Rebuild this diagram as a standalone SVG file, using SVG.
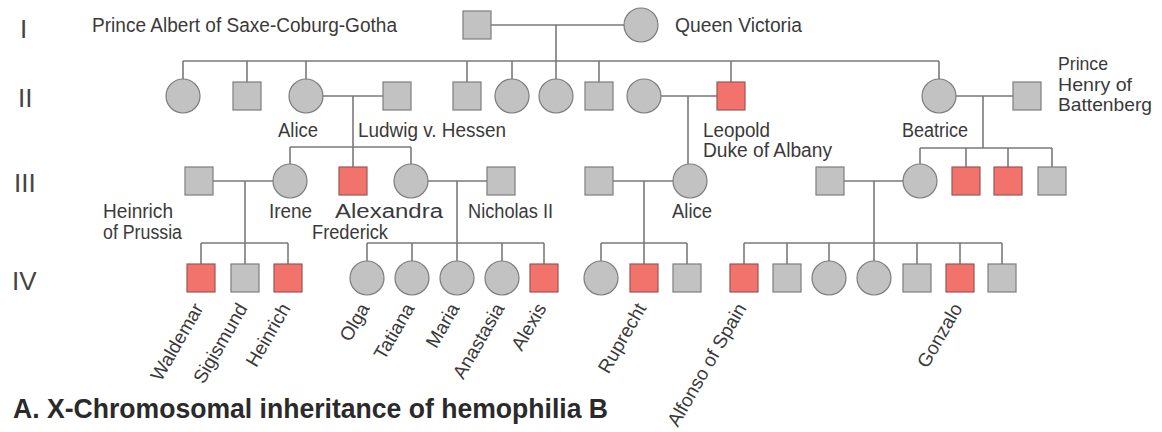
<svg xmlns="http://www.w3.org/2000/svg" width="1162" height="432" viewBox="0 0 1162 432">
<style>
.bg{fill:#ffffff}
.m{fill:#c2c2c2;stroke:#7d7d7d;stroke-width:1.2}
.a{fill:#f2726c;stroke:#9c5855;stroke-width:1.2}
.ln{fill:none;stroke:#7a7a7a;stroke-width:1.6}
.t{font-family:"Liberation Sans",Arial,sans-serif;font-size:20px;fill:#3a3a3a}
.s{font-family:"Liberation Sans",Arial,sans-serif;font-size:18.5px;fill:#3a3a3a}
.r{font-family:"Liberation Sans",Arial,sans-serif;font-size:19px;fill:#3a3a3a;text-anchor:end}
.g{font-family:"Liberation Sans",Arial,sans-serif;font-size:26px;fill:#444444}
.h{font-family:"Liberation Sans",Arial,sans-serif;font-size:27px;font-weight:bold;fill:#2a2a2a}
</style>
<rect class="bg" x="0" y="0" width="1162" height="432"/>
<g id="connectors">
<path class="ln" d="M491 25H624M556 25V79M183 61H939"/>
<path class="ln" d="M183 61V79M247 61V82M306 61V79M467 61V82M512 61V79M599 61V82M731 61V82M939 61V79"/>
<path class="ln" d="M323 96H383M353 96V167M290 147H411M290 147V164M411 147V164"/>
<path class="ln" d="M661 96H717M688 96V164"/>
<path class="ln" d="M956 96H1013M983 96V148M920 148H1052M920 148V164M966 148V167M1008 148V167M1052 148V167"/>
<path class="ln" d="M213 181H273M245 181V264M201 243H288M201 243V264M288 243V264"/>
<path class="ln" d="M428 181H487M457 181V261M367 243H544M367 243V261M412 243V261M502 243V261M544 243V264"/>
<path class="ln" d="M613 181H673M644 181V264M601 243H687M601 243V261M687 243V264"/>
<path class="ln" d="M844 181H903M874 181V261M744 243H1002M744 243V264M787 243V264M829 243V261M917 243V264M960 243V264M1002 243V264"/>
</g>
<g id="generations">
<text class="g" x="20" y="38">I</text>
<text class="g" x="18" y="107">II</text>
<text class="g" x="14" y="192">III</text>
<text class="g" x="12" y="290">IV</text>
</g>
<g id="albert"><rect class="m" x="463" y="11" width="28" height="28"/><text class="t" x="92" y="32" textLength="305" lengthAdjust="spacingAndGlyphs">Prince Albert of Saxe-Coburg-Gotha</text></g>
<g id="victoria"><circle class="m" cx="641" cy="25" r="17"/><text class="t" x="675" y="32" textLength="127" lengthAdjust="spacingAndGlyphs">Queen Victoria</text></g>
<g id="ii-1"><circle class="m" cx="183" cy="96" r="17"/></g>
<g id="ii-2"><rect class="m" x="233" y="82" width="28" height="28"/></g>
<g id="alice"><circle class="m" cx="306" cy="96" r="17"/><text class="t" x="278" y="137" textLength="40" lengthAdjust="spacingAndGlyphs">Alice</text></g>
<g id="ludwig"><rect class="m" x="383" y="82" width="28" height="28"/><text class="t" x="358" y="137" textLength="148" lengthAdjust="spacingAndGlyphs">Ludwig v. Hessen</text></g>
<g id="ii-5"><rect class="m" x="453" y="82" width="28" height="28"/></g>
<g id="ii-6"><circle class="m" cx="512" cy="96" r="17"/></g>
<g id="ii-7"><circle class="m" cx="556" cy="96" r="17"/></g>
<g id="ii-8"><rect class="m" x="585" y="82" width="28" height="28"/></g>
<g id="helena"><circle class="m" cx="644" cy="96" r="17"/></g>
<g id="leopold"><rect class="a" x="717" y="82" width="28" height="28"/><text class="t" x="703" y="137" textLength="67" lengthAdjust="spacingAndGlyphs">Leopold</text><text class="t" x="703" y="157" textLength="129" lengthAdjust="spacingAndGlyphs">Duke of Albany</text></g>
<g id="beatrice"><circle class="m" cx="939" cy="96" r="17"/><text class="t" x="902" y="137" textLength="66" lengthAdjust="spacingAndGlyphs">Beatrice</text></g>
<g id="henry"><rect class="m" x="1013" y="82" width="28" height="28"/><text class="s" x="1058" y="70" textLength="50" lengthAdjust="spacingAndGlyphs">Prince</text><text class="s" x="1058" y="90.5" textLength="74" lengthAdjust="spacingAndGlyphs">Henry of</text><text class="s" x="1058" y="111" textLength="94" lengthAdjust="spacingAndGlyphs">Battenberg</text></g>
<g id="heinrich-prussia"><rect class="m" x="185" y="167" width="28" height="28"/><text class="t" x="103" y="218" textLength="70" lengthAdjust="spacingAndGlyphs">Heinrich</text><text class="t" x="103" y="239" textLength="79" lengthAdjust="spacingAndGlyphs">of Prussia</text></g>
<g id="irene"><circle class="m" cx="290" cy="181" r="17"/><text class="t" x="269" y="218" textLength="43" lengthAdjust="spacingAndGlyphs">Irene</text></g>
<g id="frederick"><rect class="a" x="339" y="167" width="28" height="28"/><text class="t" x="312" y="239" textLength="76" lengthAdjust="spacingAndGlyphs">Frederick</text></g>
<g id="alexandra"><circle class="m" cx="411" cy="181" r="17"/><text class="t" x="335" y="218" textLength="108" lengthAdjust="spacingAndGlyphs">Alexandra</text></g>
<g id="nicholas"><rect class="m" x="487" y="167" width="28" height="28"/><text class="t" x="468" y="218" textLength="85" lengthAdjust="spacingAndGlyphs">Nicholas II</text></g>
<g id="iii-spouse-alice"><rect class="m" x="585" y="167" width="28" height="28"/></g>
<g id="alice-iii"><circle class="m" cx="690" cy="181" r="17"/><text class="t" x="672" y="218" textLength="40" lengthAdjust="spacingAndGlyphs">Alice</text></g>
<g id="iii-spouse-ve"><rect class="m" x="816" y="167" width="28" height="28"/></g>
<g id="victoria-eugenie"><circle class="m" cx="920" cy="181" r="17"/></g>
<g id="iii-b2"><rect class="a" x="952" y="167" width="28" height="28"/></g>
<g id="iii-b3"><rect class="a" x="994" y="167" width="28" height="28"/></g>
<g id="iii-b4"><rect class="m" x="1038" y="167" width="28" height="28"/></g>
<g id="waldemar"><rect class="a" x="187" y="264" width="28" height="28"/><text class="r" x="204" y="308" transform="rotate(-60 204 308)">Waldemar</text></g>
<g id="sigismund"><rect class="m" x="231" y="264" width="28" height="28"/><text class="r" x="248" y="308" transform="rotate(-60 248 308)">Sigismund</text></g>
<g id="heinrich"><rect class="a" x="274" y="264" width="28" height="28"/><text class="r" x="291" y="308" transform="rotate(-60 291 308)">Heinrich</text></g>
<g id="olga"><circle class="m" cx="367" cy="278" r="17"/><text class="r" x="370" y="308" transform="rotate(-60 370 308)">Olga</text></g>
<g id="tatiana"><circle class="m" cx="412" cy="278" r="17"/><text class="r" x="415" y="308" transform="rotate(-60 415 308)">Tatiana</text></g>
<g id="maria"><circle class="m" cx="457" cy="278" r="17"/><text class="r" x="460" y="308" transform="rotate(-60 460 308)">Maria</text></g>
<g id="anastasia"><circle class="m" cx="502" cy="278" r="17"/><text class="r" x="505" y="308" transform="rotate(-60 505 308)">Anastasia</text></g>
<g id="alexis"><rect class="a" x="530" y="264" width="28" height="28"/><text class="r" x="547" y="308" transform="rotate(-60 547 308)">Alexis</text></g>
<g id="iv-a1"><circle class="m" cx="601" cy="278" r="17"/></g>
<g id="ruprecht"><rect class="a" x="630" y="264" width="28" height="28"/><text class="r" x="647" y="308" transform="rotate(-60 647 308)">Ruprecht</text></g>
<g id="iv-a3"><rect class="m" x="673" y="264" width="28" height="28"/></g>
<g id="alfonso"><rect class="a" x="730" y="264" width="28" height="28"/><text class="r" x="747" y="308" transform="rotate(-60 747 308)">Alfonso of Spain</text></g>
<g id="iv-s2"><rect class="m" x="773" y="264" width="28" height="28"/></g>
<g id="iv-s3"><circle class="m" cx="829" cy="278" r="17"/></g>
<g id="iv-s4"><circle class="m" cx="874" cy="278" r="17"/></g>
<g id="iv-s5"><rect class="m" x="903" y="264" width="28" height="28"/></g>
<g id="gonzalo"><rect class="a" x="946" y="264" width="28" height="28"/><text class="r" x="963" y="308" transform="rotate(-60 963 308)">Gonzalo</text></g>
<g id="iv-s7"><rect class="m" x="988" y="264" width="28" height="28"/></g>
<g id="title"><text class="h" x="13" y="418" textLength="595" lengthAdjust="spacingAndGlyphs">A. X-Chromosomal inheritance of hemophilia B</text></g>
</svg>
